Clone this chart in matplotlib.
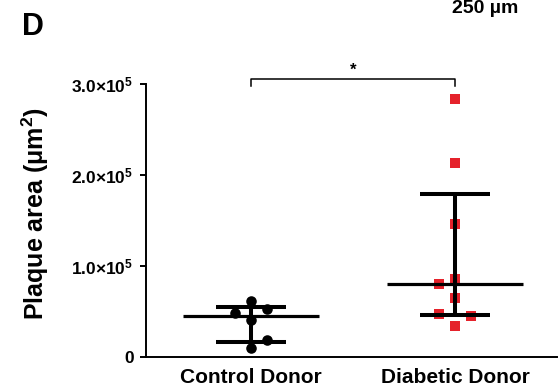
import numpy as np
import matplotlib
matplotlib.use("Agg")
import matplotlib.pyplot as plt

plt.rcParams["font.family"] = ["Liberation Sans", "DejaVu Sans"]
plt.rcParams["font.weight"] = "bold"
plt.rcParams["mathtext.fontset"] = "custom"
plt.rcParams["mathtext.rm"] = "Liberation Sans:bold"
plt.rcParams["mathtext.it"] = "Liberation Sans:bold"
plt.rcParams["mathtext.bf"] = "Liberation Sans:bold"

# Plaque area per donor (um^2)
groups = ["Control Donor", "Diabetic Donor"]
control = [0.614e5, 0.523e5, 0.482e5, 0.410e5, 0.189e5, 0.097e5]
diabetic = [2.835e5, 2.134e5, 1.459e5, 0.853e5, 0.798e5, 0.647e5, 0.476e5, 0.449e5, 0.336e5]
ytick_values = [0, 1.0e5, 2.0e5, 3.0e5]
ytick_labels = ["0", "1.0×10$^{5}$", "2.0×10$^{5}$", "3.0×10$^{5}$"]

# scatter column slots (-1 left, 0 centre, +1 right) to avoid overlapping dots
control_slot = [0, 1, -1, 0, 1, 0]
diabetic_slot = [0, 0, 0, 0, -1, 0, -1, 1, 0]

red = "#e5222b"
fig = plt.figure(figsize=(5.58, 3.89), dpi=100)
ax = fig.add_axes([146 / 558, (389 - 357) / 389, (557 - 146) / 558, (357 - 84) / 389])

slot_w = 0.08
for i, (vals, slots) in enumerate([(control, control_slot), (diabetic, diabetic_slot)]):
    v = np.asarray(vals)
    q1, med, q3 = np.percentile(v, [25, 50, 75], method="weibull")
    xs = i + np.asarray(slots) * slot_w
    if i == 0:
        ax.plot(xs, v, "o", color="black", ms=7.6, mec="black", mew=0, zorder=2, clip_on=False)
    else:
        ax.plot(xs, v, "s", color=red, ms=7.6, mec=red, mew=0, zorder=2, clip_on=False)
    # median with interquartile range
    ax.plot([i - 0.333, i + 0.333], [med, med], color="black", lw=2.3, zorder=3,
            solid_capstyle="butt")
    ax.plot([i, i], [q1, q3], color="black", lw=2.9, zorder=3, solid_capstyle="butt")
    for q in (q1, q3):
        ax.plot([i - 0.17, i + 0.17], [q, q], color="black", lw=2.9, zorder=3,
                solid_capstyle="butt")

ax.set_xlim(-0.515, 1.5)
ax.set_ylim(0, 3.0e5)
ax.set_xticks([0, 1])
ax.set_xticklabels(groups, fontsize=15, fontweight="bold")
ax.set_yticks(ytick_values)
ax.set_yticklabels(ytick_labels, fontsize=12.5, fontweight="bold")
ax.tick_params(axis="x", length=0, pad=8)
ax.tick_params(axis="y", length=4.5, width=1.4, pad=4.5)
for s in ("top", "right"):
    ax.spines[s].set_visible(False)
for s in ("left", "bottom"):
    ax.spines[s].set_linewidth(1.4)

fig.text(35 / 558, 1 - 213.5 / 389, "Plaque area (μm$^{2}$)", fontsize=18, fontweight="bold",
         rotation=90, ha="center", va="center")

# significance bracket
yb = 3.055e5
yt = 2.975e5
ax.plot([0, 0, 1, 1], [yt, yb, yb, yt], color="black", lw=1.1, clip_on=False)
ax.text(0.5, yb + 0.01e5, "*", ha="center", va="bottom", fontsize=12, fontweight="bold")

fig.text(22 / 558, 1 - 35 / 389, "D", fontsize=22, fontweight="bold", ha="left", va="baseline")
fig.text(452 / 558, 1 - 13 / 389, "250 µm", fontsize=14, fontweight="bold", ha="left",
         va="baseline")

fig.savefig("out.png", dpi=100)
